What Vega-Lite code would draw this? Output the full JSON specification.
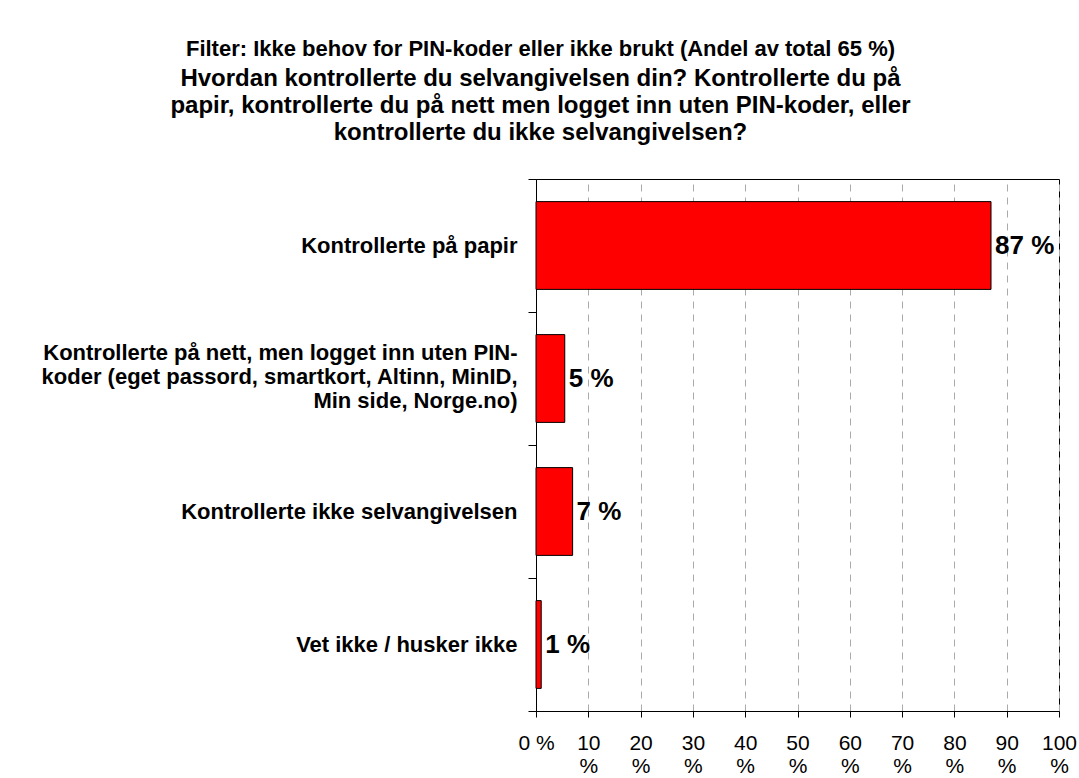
{
  "$schema": "https://vega.github.io/schema/vega-lite/v6.json",
  "width": 523,
  "height": 532,
  "padding": {"left": 40, "top": 38, "right": 5, "bottom": 5},
  "background": "white",
  "config": {
    "font": "Liberation Sans",
    "view": {"stroke": "black", "strokeWidth": 1}
  },
  "title": {
    "text": "Filter: Ikke behov for PIN-koder eller ikke brukt (Andel av total 65 %)",
    "subtitle": [
      "Hvordan kontrollerte du selvangivelsen din? Kontrollerte du på",
      "papir, kontrollerte du på nett men logget inn uten PIN-koder, eller",
      "kontrollerte du ikke selvangivelsen?"
    ],
    "anchor": "middle",
    "dx": -257,
    "offset": 22,
    "font": "Liberation Sans",
    "fontSize": 22,
    "fontWeight": "bold",
    "color": "black",
    "subtitleFont": "Liberation Sans",
    "subtitleFontSize": 24,
    "subtitleFontWeight": "bold",
    "subtitleColor": "black",
    "subtitleLineHeight": 27,
    "subtitlePadding": 6
  },
  "data": {
    "values": [
      {"kategori": "Kontrollerte på papir", "andel": 87, "etikett": "87 %"},
      {"kategori": "Kontrollerte på nett, men logget inn uten PIN-koder (eget passord, smartkort, Altinn, MinID, Min side, Norge.no)", "andel": 5.5, "etikett": "5 %"},
      {"kategori": "Kontrollerte ikke selvangivelsen", "andel": 7, "etikett": "7 %"},
      {"kategori": "Vet ikke / husker ikke", "andel": 1, "etikett": "1 %"}
    ]
  },
  "encoding": {
    "y": {
      "field": "kategori",
      "type": "nominal",
      "sort": ["Kontrollerte på papir", "Kontrollerte på nett, men logget inn uten PIN-koder (eget passord, smartkort, Altinn, MinID, Min side, Norge.no)", "Kontrollerte ikke selvangivelsen", "Vet ikke / husker ikke"],
      "scale": {"paddingInner": 0, "paddingOuter": 0},
      "axis": {
        "title": null,
        "tickBand": "extent",
        "domainColor": "black",
        "tickColor": "black",
        "tickSize": 8,
        "labelFont": "Liberation Sans",
        "labelFontSize": 22,
        "labelFontWeight": "bold",
        "labelColor": "black",
        "labelLimit": 600,
        "labelAlign": "right",
        "labelPadding": 11,
        "labelOffset": {"condition": {"test": "datum.label == 'Kontrollerte på nett, men logget inn uten PIN-koder (eget passord, smartkort, Altinn, MinID, Min side, Norge.no)'", "value": -26}, "value": 0},
        "labelExpr": "datum.label == 'Kontrollerte på nett, men logget inn uten PIN-koder (eget passord, smartkort, Altinn, MinID, Min side, Norge.no)' ? ['Kontrollerte på nett, men logget inn uten PIN-', 'koder (eget passord, smartkort, Altinn, MinID,', 'Min side, Norge.no)\u00a0\u00a0\u00a0\u00a0\u00a0\u00a0\u00a0\u00a0\u00a0\u00a0\u00a0\u00a0\u00a0\u00a0\u00a0\u00a0\u00a0\u00a0\u00a0\u00a0\u00a0'] : datum.label"
      }
    },
    "x": {
      "field": "andel",
      "type": "quantitative",
      "scale": {"domain": [0, 100], "nice": false},
      "axis": {
        "title": null,
        "values": [0, 10, 20, 30, 40, 50, 60, 70, 80, 90, 100],
        "grid": true,
        "gridDash": [7, 6],
        "gridColor": "#aaaaaa",
        "gridWidth": 1,
        "domainColor": "black",
        "tickColor": "black",
        "tickSize": 6,
        "labelFont": "Liberation Sans",
        "labelFontSize": 21,
        "labelColor": "black",
        "labelPadding": 15,
        "labelFlush": false,
        "labelOverlap": false,
        "labelExpr": "datum.value == 0 ? '0 %' : [datum.label, '%']"
      }
    }
  },
  "layer": [
    {
      "mark": {"type": "bar", "color": "#FF0000", "stroke": "black", "strokeWidth": 1, "height": {"band": 0.66}}
    },
    {
      "mark": {"type": "text", "align": "left", "baseline": "middle", "dx": 4, "font": "Liberation Sans", "fontSize": 26, "fontWeight": "bold", "color": "black"},
      "encoding": {
        "text": {"field": "etikett"}
      }
    }
  ]
}
